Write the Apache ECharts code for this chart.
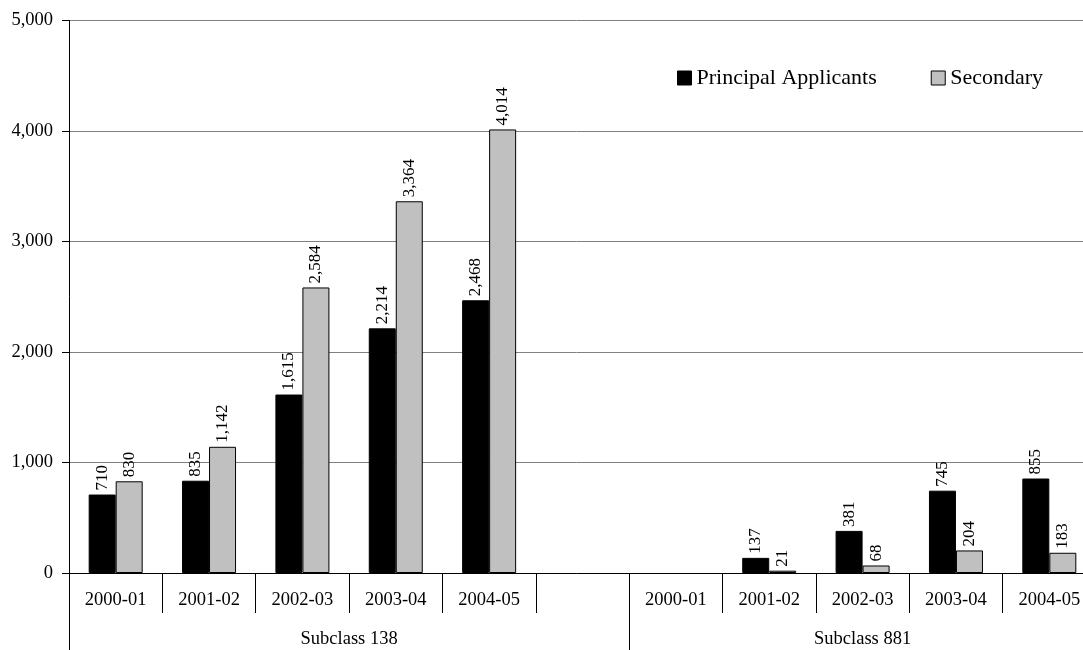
<!DOCTYPE html>
<html>
<head>
<meta charset="utf-8">
<script src="https://cdn.jsdelivr.net/npm/echarts@6/dist/echarts.min.js"></script>
<style>
  html, body { margin: 0; padding: 0; background: #fff; }
  #chart { width: 1083px; height: 650px; }
</style>
</head>
<body>
<div id="chart"></div>
<script>
// Financial years within each subclass; an empty slot separates the two groups
const categories = ['2000-01', '2001-02', '2002-03', '2003-04', '2004-05', '',
                    '2000-01', '2001-02', '2002-03', '2003-04', '2004-05'];
const groupNames = ['Subclass 138', 'Subclass 881'];
const groupSpans = [6, 5];

const principalApplicants = [710, 835, 1615, 2214, 2468, null, null, 137, 381, 745, 855];
const secondary = [830, 1142, 2584, 3364, 4014, null, null, 21, 68, 204, 183];

const yTicks = [0, 1000, 2000, 3000, 4000, 5000];

const FONT = '"Liberation Serif", "Times New Roman", serif';
const fmt = v => Number(v).toLocaleString('en-US');

// Boundaries and centres of the group brackets, in category units
const groupEdges = [0];
groupSpans.forEach(s => groupEdges.push(groupEdges[groupEdges.length - 1] + s));
const groupCentres = groupSpans.map((s, i) => groupEdges[i] + s / 2);

const chart = echarts.init(document.getElementById('chart'), null, { renderer: 'canvas' });

const barLabel = {
  show: true,
  position: 'top',
  rotate: 90,
  align: 'left',
  verticalAlign: 'middle',
  distance: 4,
  color: '#000',
  fontFamily: FONT,
  fontSize: 17,
  formatter: p => fmt(p.value)
};

chart.setOption({
  animation: false,
  backgroundColor: '#fff',
  textStyle: { fontFamily: FONT },
  grid: {
    left: 69, right: -13, top: 20.5, bottom: 77,
    containLabel: false, outerBoundsMode: 'none'
  },
  legend: {
    left: 672, top: 62,
    itemWidth: 14, itemHeight: 14, itemGap: 54,
    textStyle: { fontFamily: FONT, fontSize: 22, color: '#000', padding: [0, 0, 0, 0] },
    data: [
      { name: 'Principal Applicants', icon: 'rect', itemStyle: { color: '#000', borderColor: '#000', borderWidth: 1 } },
      { name: 'Secondary', icon: 'rect', itemStyle: { color: '#C0C0C0', borderColor: '#000', borderWidth: 1 } }
    ]
  },
  xAxis: [
    {
      type: 'category',
      data: categories,
      position: 'bottom',
      boundaryGap: true,
      axisLine: { show: true, lineStyle: { color: '#000', width: 1 } },
      axisTick: { show: true, interval: 0, length: 40, lineStyle: { color: '#000', width: 1 } },
      axisLabel: { interval: 0, margin: 18, color: '#000', fontFamily: FONT, fontSize: 18.5 },
      splitLine: { show: false }
    },
    {
      type: 'value',
      min: 0, max: categories.length,
      position: 'bottom',
      axisLine: { show: false },
      splitLine: { show: false },
      axisTick: {
        show: true, length: 77, customValues: groupEdges,
        lineStyle: { color: '#000', width: 1 }
      },
      axisLabel: {
        show: true, margin: 57, customValues: groupCentres,
        color: '#000', fontFamily: FONT, fontSize: 18.5,
        formatter: v => groupNames[groupCentres.indexOf(v)] || ''
      }
    }
  ],
  yAxis: {
    type: 'value',
    min: yTicks[0], max: yTicks[yTicks.length - 1], interval: 1000,
    axisLine: { show: true, lineStyle: { color: '#000', width: 1 } },
    axisTick: { show: true, length: 7, lineStyle: { color: '#000' } },
    axisLabel: { margin: 16, color: '#000', fontFamily: FONT, fontSize: 18.5, formatter: fmt },
    splitLine: { show: true, lineStyle: { color: '#808080', width: 1 } }
  },
  series: [
    {
      name: 'Principal Applicants',
      type: 'bar',
      xAxisIndex: 0,
      data: principalApplicants,
      barWidth: 27,
      barGap: '0%',
      itemStyle: { color: '#000', borderColor: '#000', borderWidth: 1 },
      label: barLabel
    },
    {
      name: 'Secondary',
      type: 'bar',
      xAxisIndex: 0,
      data: secondary,
      barWidth: 27,
      barGap: '0%',
      itemStyle: { color: '#C0C0C0', borderColor: '#000', borderWidth: 1 },
      label: barLabel
    }
  ]
});
</script>
</body>
</html>
